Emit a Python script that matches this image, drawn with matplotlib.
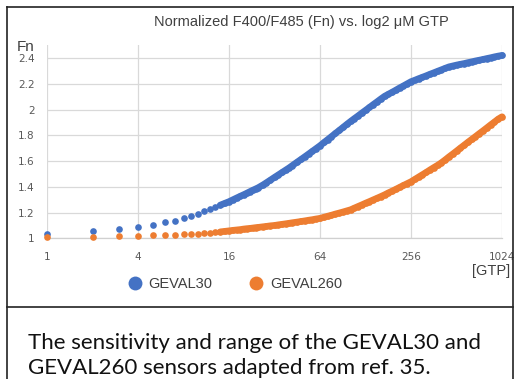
import matplotlib
matplotlib.use("Agg")
import matplotlib.pyplot as plt
from matplotlib.lines import Line2D

# [GTP] (uM) and normalized F400/F485
gtp = [1, 2, 3, 4, 5, 6, 7, 8, 9, 10, 11, 12, 13, 14, 15, 16,
       17, 18, 19, 20, 21, 22, 23, 24, 25, 27, 28, 30, 32, 34, 36, 38, 40, 42, 45,
       48, 51, 54, 57, 60, 64, 68, 72, 76, 81, 86, 91, 96, 102, 108, 114, 121,
       128, 136, 144, 152, 161, 171, 181, 192, 203, 215, 228, 242, 256, 271,
       287, 304, 323, 342, 362, 384, 406, 431, 456, 483, 512, 542, 575, 609,
       645, 683, 724, 767, 813, 861, 912, 966, 1024]

geval30 = [1.037, 1.057, 1.072, 1.088, 1.102, 1.125, 1.138, 1.156, 1.172, 1.190,
           1.210, 1.227, 1.243, 1.258, 1.272, 1.285,
           1.300, 1.314, 1.327, 1.339, 1.351, 1.363, 1.374, 1.384, 1.394, 1.417,
           1.429, 1.452, 1.474, 1.494, 1.513, 1.531, 1.548, 1.566, 1.591,
           1.614, 1.636, 1.657, 1.677, 1.696, 1.720, 1.745, 1.768, 1.790, 1.816,
           1.840, 1.863, 1.885, 1.909, 1.931, 1.951, 1.974,
           1.995, 2.018, 2.040, 2.060, 2.082, 2.104, 2.120, 2.136, 2.152, 2.169,
           2.185, 2.202, 2.218, 2.229, 2.241, 2.252, 2.264, 2.276, 2.287, 2.299,
           2.310, 2.322, 2.333, 2.340, 2.347, 2.353, 2.359, 2.366,
           2.372, 2.379, 2.385, 2.391, 2.398, 2.404, 2.411, 2.417, 2.422]

geval260 = [1.013, 1.010, 1.020, 1.020, 1.022, 1.024, 1.027, 1.030, 1.033, 1.036,
            1.040, 1.043, 1.047, 1.050, 1.054, 1.058,
            1.062, 1.065, 1.068, 1.072, 1.075, 1.077, 1.080, 1.083, 1.085, 1.090,
            1.092, 1.097, 1.100, 1.105, 1.109, 1.113, 1.117, 1.121, 1.126,
            1.131, 1.136, 1.141, 1.145, 1.150, 1.155, 1.164, 1.172, 1.179, 1.189,
            1.197, 1.205, 1.213, 1.222, 1.235, 1.247, 1.260,
            1.273, 1.286, 1.299, 1.311, 1.324, 1.338, 1.353, 1.367, 1.381, 1.396,
            1.411, 1.426, 1.440, 1.458, 1.476, 1.494, 1.513, 1.532, 1.550, 1.568,
            1.587, 1.610, 1.633, 1.655, 1.678, 1.701, 1.724, 1.747,
            1.769, 1.791, 1.814, 1.836, 1.859, 1.882, 1.904, 1.927, 1.945]

x_ticks = [1, 4, 16, 64, 256, 1024]
y_ticks = [1, 1.2, 1.4, 1.6, 1.8, 2, 2.2, 2.4]
y_tick_labels = ["1", "1.2", "1.4", "1.6", "1.8", "2", "2.2", "2.4"]

BLUE = "#4472C4"
ORANGE = "#ED7D31"
narrow = ["Liberation Sans Narrow", "Liberation Sans"]

W, H = 516, 379
fig = plt.figure(figsize=(W / 100, H / 100), dpi=100)
ax = fig.add_axes([47 / W, 1 - 238.3 / H, 455 / W, 192.9 / H])

# the dots merge into a solid band where they get dense (x >= 14)
dense = 13
for ys, c in [(geval30, BLUE), (geval260, ORANGE)]:
    ax.plot(gtp, ys, "o", ms=4.8, mew=0, color=c, clip_on=False, zorder=3)
    ax.plot(gtp[dense:], ys[dense:], "-", lw=4.8, color=c,
            solid_capstyle="round", clip_on=False, zorder=3)

ax.set_xscale("log", base=2)
ax.set_xlim(1, 1024)
ax.set_ylim(1, 2.5)
ax.set_xticks(x_ticks)
ax.set_xticklabels([str(t) for t in x_ticks])
ax.minorticks_off()
ax.set_yticks(y_ticks)
ax.set_yticklabels(y_tick_labels)
ax.tick_params(length=0, labelsize=7.5, colors="#595959")
ax.tick_params(axis="x", pad=10)
ax.tick_params(axis="y", pad=9)
ax.grid(True, color="#D9D9D9", linewidth=0.9)
ax.set_axisbelow(True)
for s in ["top", "right", "left"]:
    ax.spines[s].set_visible(False)
ax.spines["bottom"].set_color("#D0D0D0")
ax.spines["bottom"].set_linewidth(0.9)

fig.text(301 / W, 1 - 22 / H, "Normalized F400/F485 (Fn) vs. log2 \u03bcM GTP",
         ha="center", va="center", fontsize=10.5, family=narrow, color="#404040")
fig.text(26 / W, 1 - 47 / H, "Fn", ha="center", va="center", fontsize=11,
         family=narrow, color="#404040")
fig.text(491 / W, 1 - 271.5 / H, "[GTP]", ha="center", va="center",
         fontsize=10.5, family=narrow, color="#404040")

handles = [Line2D([], [], marker="o", ls="none", ms=10, mew=0, color=BLUE),
           Line2D([], [], marker="o", ls="none", ms=10, mew=0, color=ORANGE)]
leg = fig.legend(handles, ["GEVAL30", "GEVAL260"], loc="center",
                 bbox_to_anchor=(234 / W, 1 - 284 / H), ncol=2, frameon=False,
                 handletextpad=0.35, columnspacing=2.4, handlelength=1.2,
                 prop={"family": narrow, "size": 10.5})
for t in leg.get_texts():
    t.set_color("#404040")

# table frame around chart and caption
frame = dict(color="#222222", linewidth=1.2, transform=fig.transFigure, clip_on=False)
fig.add_artist(Line2D([7 / W, 513 / W], [1 - 7 / H, 1 - 7 / H], **frame))
fig.add_artist(Line2D([7 / W, 513 / W], [1 - 307 / H, 1 - 307 / H], **frame))
fig.add_artist(Line2D([7 / W, 7 / W], [1 - 7 / H, 0], **frame))
fig.add_artist(Line2D([513 / W, 513 / W], [1 - 7 / H, 0], **frame))

fig.text(28 / W, 1 - 343 / H, "The sensitivity and range of the GEVAL30 and",
         ha="left", va="center", fontsize=16, family="Lato", color="#111111")
fig.text(28 / W, 1 - 368 / H, "GEVAL260 sensors adapted from ref. 35.",
         ha="left", va="center", fontsize=16, family="Lato", color="#111111")

fig.savefig("out.png", dpi=100)
